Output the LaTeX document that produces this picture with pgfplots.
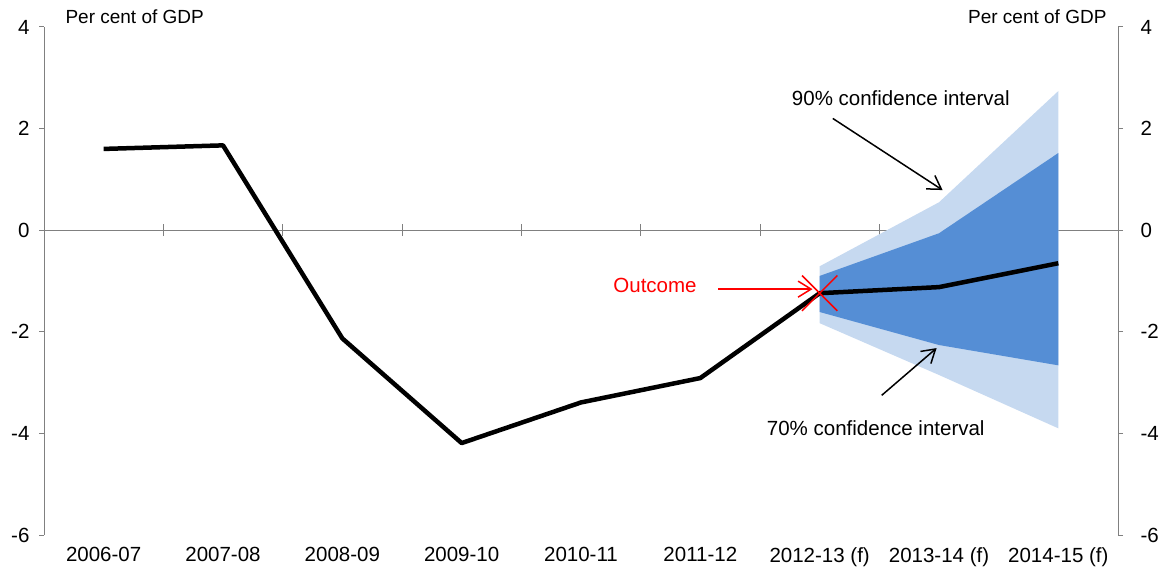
\documentclass[border=0pt]{standalone}
\usepackage{pgfplots}
\pgfplotsset{compat=1.18}
\usepgfplotslibrary{fillbetween}
\usetikzlibrary{arrows.meta}
\usepackage{fontspec}
\setmainfont{Liberation Sans}
\definecolor{ci90}{RGB}{198,217,240}
\definecolor{ci70}{RGB}{85,142,213}
\definecolor{axgray}{RGB}{128,128,128}
\newcommand\chfont{\fontsize{20.5}{24}\selectfont}
\newcommand\unitfont{\fontsize{19}{22}\selectfont}

% budget balance, per cent of GDP (outcomes, then forecasts)
\pgfplotstableread{
x y
0 1.60
1 1.67
2 -2.13
3 -4.19
4 -3.39
5 -2.91
6 -1.24
7 -1.12
8 -0.65
}\balance

% confidence bands around the forecast
\pgfplotstableread{
x u90 u70 l70 l90
6 -0.71 -0.90 -1.61 -1.83
7 0.55 -0.06 -2.26 -2.85
8 2.74 1.52 -2.66 -3.90
}\bands

\pgfplotsset{
  common/.style={
    scale only axis, width=1074pt, height=508pt,
    xmin=-0.5, xmax=8.5, ymin=-6, ymax=4,
    ytick={-6,-4,...,4},
    /pgf/number format/assume math mode=true,
    tick label style={font=\chfont, black},
  },
}

\begin{document}
\begin{tikzpicture}
% data axis with the zero line and category separators
\begin{axis}[common, name=main,
    axis x line=middle, axis y line=none,
    x axis line style={axgray, line width=1pt, -},
    xtick={0.5,1.5,...,7.5}, xticklabels={},
    tick align=center, major tick length=12pt,
    xtick style={axgray, line width=1pt},
    clip=false]
  \addplot[name path=u90, draw=none] table[x=x, y=u90] {\bands};
  \addplot[name path=l90, draw=none] table[x=x, y=l90] {\bands};
  \addplot[name path=u70, draw=none] table[x=x, y=u70] {\bands};
  \addplot[name path=l70, draw=none] table[x=x, y=l70] {\bands};
  \addplot[ci90] fill between[of=u90 and l90];
  \addplot[ci70] fill between[of=u70 and l70];
  \addplot[black, line width=4.5pt, line join=round] table[x=x, y=y] {\balance};
  \addplot[only marks, mark=x, mark size=25pt, mark options={red, line width=1.5pt}]
    coordinates {(6,-1.24)};

  \node[red, font=\chfont] at (axis cs:4.62,-1.08) {Outcome};
  \draw[red, line width=1.5pt, -{Straight Barb[length=13pt, width=16pt]}]
    (axis cs:5.15,-1.16) -- (axis cs:5.94,-1.16);
  \node[font=\chfont] at (axis cs:6.68,2.60) {90\% confidence interval};
  \draw[black, line width=1.5pt, -{Straight Barb[length=13pt, width=16pt]}]
    (axis cs:6.11,2.20) -- (axis cs:7.03,0.79);
  \node[font=\chfont] at (axis cs:6.47,-3.90) {70\% confidence interval};
  \draw[black, line width=1.5pt, -{Straight Barb[length=13pt, width=16pt]}]
    (axis cs:6.52,-3.25) -- (axis cs:6.98,-2.32);
\end{axis}

% left y axis and category labels
\begin{axis}[common,
    axis x line*=bottom, x axis line style={draw=none},
    xtick={0,...,8},
    xticklabels={2006-07,2007-08,2008-09,2009-10,2010-11,2011-12,2012-13 (f),2013-14 (f),2014-15 (f)},
    xtick style={draw=none},
    xticklabel style={yshift=-4pt},
    axis y line*=left, y axis line style={axgray, line width=1pt, -},
    ytick style={axgray, line width=1pt},
    tick align=outside, major tick length=5pt,
    yticklabel style={xshift=-6pt}]
\end{axis}

% right y axis
\begin{axis}[common,
    axis x line=none,
    axis y line*=right, y axis line style={axgray, line width=1pt, -},
    ytick style={axgray, line width=1pt},
    tick align=outside, major tick length=5pt,
    yticklabel style={xshift=14pt}]
\end{axis}

\node[font=\unitfont, anchor=base west] at ([xshift=18pt, yshift=3pt]main.north west) {Per cent of GDP};
\node[font=\unitfont, anchor=base east] at ([xshift=-8pt, yshift=3pt]main.north east) {Per cent of GDP};

\pgfresetboundingbox
\useasboundingbox ([xshift=-44pt, yshift=-39pt]main.south west) rectangle ([xshift=47pt, yshift=27pt]main.north east);
\end{tikzpicture}
\end{document}
